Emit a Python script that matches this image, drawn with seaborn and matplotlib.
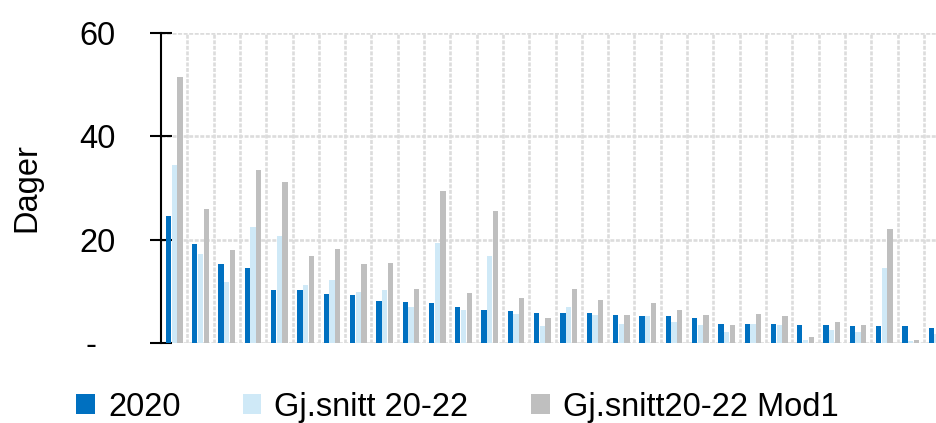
import numpy as np
import pandas as pd
import matplotlib
matplotlib.use("Agg")
import matplotlib.pyplot as plt
import seaborn as sns

# Days per category, three series
categories = [str(i) for i in range(1, 31)]
series_names = ["2020", "Gj.snitt 20-22", "Gj.snitt20-22 Mod1"]
values_2020 = [24.5, 19.2, 15.2, 14.5, 10.2, 10.2, 9.5, 9.2, 8.2, 7.9,
               7.7, 7.0, 6.4, 6.2, 5.9, 5.9, 5.9, 5.4, 5.2, 5.2,
               4.9, 3.7, 3.7, 3.7, 3.4, 3.4, 3.2, 3.2, 3.2, 2.9]
values_avg = [34.4, 17.2, 11.9, 22.4, 20.7, 11.2, 12.2, 9.9, 10.2, 7.0,
              19.4, 6.4, 16.9, 5.7, 3.2, 7.0, 5.4, 3.7, 5.2, 4.1,
              3.4, 2.1, 3.7, 3.4, 0.6, 2.6, 2.1, 14.5, 0.4, 1.7]
values_mod1 = [51.5, 25.9, 18.0, 33.5, 31.2, 16.9, 18.2, 15.2, 15.5, 10.4,
               29.5, 9.7, 25.5, 8.7, 4.9, 10.4, 8.4, 5.4, 7.7, 6.4,
               5.4, 3.4, 5.7, 5.2, 1.2, 4.1, 3.4, 22.0, 0.6, 2.4]
colors = ["#0070C0", "#CFE9F7", "#BFBFBF"]
ytick_values = [0, 20, 40, 60]
ytick_labels = ["-  ", "20", "40", "60"]

df = pd.DataFrame({
    "category": categories * 3,
    "series": np.repeat(series_names, len(categories)),
    "value": values_2020 + values_avg + values_mod1,
})

sns.set_theme(style="white")
plt.rcParams["font.family"] = ["Liberation Sans", "DejaVu Sans"]
plt.rcParams["text.color"] = "black"
plt.rcParams["axes.labelcolor"] = "black"

fig = plt.figure(figsize=(9.37, 4.23), dpi=100)
ax = fig.add_axes([161 / 937, 1 - 343 / 423, 776 / 937, 310 / 423])

sns.barplot(data=df, x="category", y="value", hue="series",
            order=categories, hue_order=series_names, palette=colors,
            saturation=1, width=0.65, gap=0.07, errorbar=None,
            linewidth=0, ax=ax)

handles, labels = ax.get_legend_handles_labels()
if ax.get_legend() is not None:
    ax.get_legend().remove()

ax.set_xlim(-0.5, 29)
ax.set_ylim(0, 60)
ax.set_axisbelow(True)

# y axis
ax.set_yticks(ytick_values, ytick_labels)
ax.tick_params(axis="y", direction="inout", length=15.8, width=1.5,
               pad=25, labelsize=23.5, colors="black", left=True)
ax.set_ylabel("Dager", fontsize=23.5, color="black")
ax.yaxis.set_label_coords(-0.153, 0.5)

# x axis: no labels, dotted separators between categories
grid_style = dict(color="#dcdcdc", linestyle=(0, (1.5, 0.6)), linewidth=1.9)
ax.set_xlabel("")
ax.set_xticks(np.arange(0.5, 29, 1), minor=True)
ax.tick_params(axis="x", which="both", bottom=False, labelbottom=False, length=0)
ax.grid(axis="x", which="minor", **grid_style)
ax.grid(axis="y", which="major", **grid_style)
ax.grid(axis="x", which="major", visible=False)

for side in ("top", "right", "bottom"):
    ax.spines[side].set_visible(False)
ax.spines["left"].set_color("black")
ax.spines["left"].set_linewidth(1.5)

for h in handles:
    h.set_linewidth(0)

leg = fig.legend(handles, labels, loc="center left",
                 bbox_to_anchor=(76 / 937, 1 - 407 / 423), ncol=3,
                 frameon=False, fontsize=23.5, handlelength=0.58,
                 handleheight=0.6, handletextpad=0.4, columnspacing=1.9,
                 borderpad=0, borderaxespad=0)
for t in leg.get_texts():
    t.set_color("black")

fig.savefig("out.png", dpi=100)
